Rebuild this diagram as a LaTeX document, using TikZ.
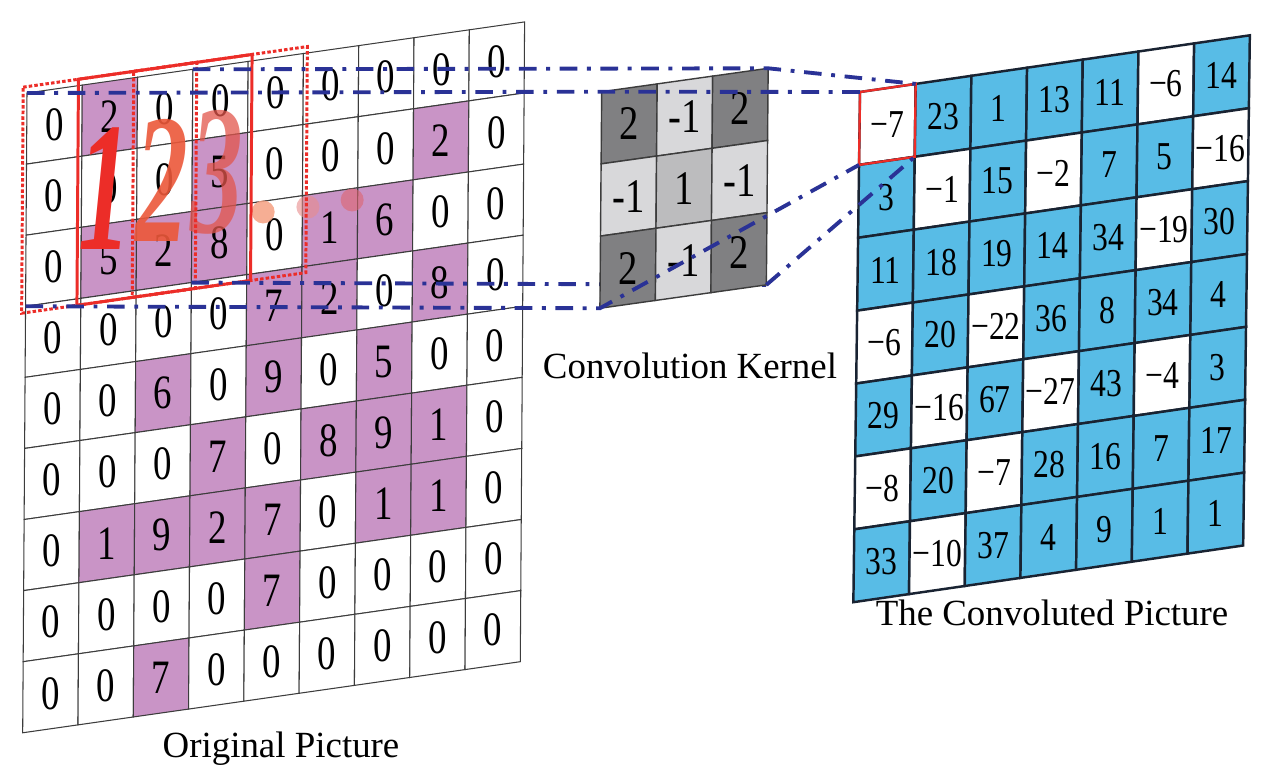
\documentclass[tikz,border=0pt]{standalone}
\usepackage{fontspec}
\setmainfont{Liberation Serif}
\usepackage{tikz}
\definecolor{origpink}{RGB}{201,148,198}
\definecolor{convblue}{RGB}{88,188,230}
\definecolor{kdark}{RGB}{128,128,130}
\definecolor{kmid}{RGB}{188,188,190}
\definecolor{klight}{RGB}{216,216,218}
\definecolor{linkblue}{RGB}{42,50,150}
\definecolor{winred}{RGB}{236,45,40}
\definecolor{cellline}{RGB}{60,60,60}
\definecolor{outline}{RGB}{25,35,50}
\newcommand{\labfont}{\fontsize{21}{25}\selectfont}
\newcommand{\numfont}{\fontsize{21}{21}\selectfont}
\newcommand{\bignum}{\fontsize{60}{60}\selectfont\bfseries\itshape}
\tikzset{
  orignum/.style={font=\numfont, yscale=1.3, inner sep=0pt},
  kernnum/.style={font=\fontsize{22}{22}\selectfont, yscale=1.25, inner sep=0pt},
  convnum/.style={font=\fontsize{18}{18}\selectfont, yscale=1.25, inner sep=0pt},
  caption/.style={font=\labfont, anchor=base, inner sep=0pt},
  link/.style={color=linkblue, line width=2.2pt,
    dash pattern=on 10pt off 5.5pt on 2.2pt off 5.5pt},
  window/.style={color=winred, line width=1.7pt},
  dotwin/.style={window, dash pattern=on 2pt off 1.2pt},
  redfig/.style={font=\bignum, yscale=1.75, inner sep=0pt},
  reddot/.style={circle, inner sep=0pt, minimum size=0.46cm}
}

\begin{document}
\begin{tikzpicture}[x=0.02cm, y=-0.02cm]
  \useasboundingbox (0,0) rectangle (1272,781);

  % original picture
  \begin{scope}[shift={(27,93)}, x={(1.106cm,0.158cm)}, y={(-0.0096cm,-1.422cm)}]
    \foreach \row [count=\r from 0] in {{0,2,0,0,0,0,0,0,0},{0,0,0,5,0,0,0,2,0},
      {0,5,2,8,0,1,6,0,0},{0,0,0,0,7,2,0,8,0},{0,0,6,0,9,0,5,0,0},
      {0,0,0,7,0,8,9,1,0},{0,1,9,2,7,0,1,1,0},{0,0,0,0,7,0,0,0,0},
      {0,0,7,0,0,0,0,0,0}}
    {\foreach \v [count=\c from 0] in \row
      {\ifnum\v=0 \def\cellcol{white}\else\def\cellcol{origpink}\fi
        \filldraw[fill=\cellcol, draw=cellline, line width=0.6pt]
          (\c,\r) -- (\c+1,\r) -- (\c+1,\r+1) -- (\c,\r+1) -- cycle;
        \draw (\c+0.5,\r+0.5) node (orig-\r-\c) [orignum] {\v};
      }
    }
    \coordinate (win-tl) at (0,0);
    \coordinate (win-tr) at (3,0);
    \coordinate (win-bl) at (0,3);
    \coordinate (win-br) at (3,3);

    % 1 2 3 ...
    \draw (1.42,1.5) node (fig-1) [redfig, text=winred] {1};
    \draw (2.45,1.5) node (fig-2) [redfig, text={rgb,255:red,236;green,88;blue,58}, text opacity=0.9] {2};
    \draw (3.45,1.5) node (fig-3) [redfig, text={rgb,255:red,226;green,86;blue,76}, text opacity=0.75] {3};
    \draw (4.29,2.15) node (dot-1) [reddot, fill={rgb,255:red,245;green,160;blue,130}, fill opacity=0.85] {};
    \draw (5.1,2.17) node (dot-2) [reddot, fill={rgb,255:red,232;green,140;blue,140}, fill opacity=0.6] {};
    \draw (5.9,2.16) node (dot-3) [reddot, fill={rgb,255:red,222;green,100;blue,110}, fill opacity=0.6] {};

    \draw[dotwin] (-0.07,-0.09) -- (3.07,-0.09) -- (3.07,3.09) -- (-0.07,3.09) -- cycle;
    \draw[window] (0.93,-0.09) -- (4.07,-0.09) -- (4.07,3.09) -- (0.93,3.09) -- cycle;
    \draw[dotwin] (1.93,-0.09) -- (5.07,-0.09) -- (5.07,3.09) -- (1.93,3.09) -- cycle;
  \end{scope}

  % the lower link runs behind the kernel
  \coordinate (kern-br-a) at (766.2,284.9);
  \draw[link] (win-br) -- (kern-br-a);

  % convolution kernel
  \begin{scope}[shift={(601.7,91.7)}, x={(1.11cm,0.156cm)}, y={(-0.012cm,-1.444cm)}]
    \foreach \row [count=\r from 0] in {{2,-1,2},{-1,1,-1},{2,-1,2}}
    {\foreach \v [count=\c from 0] in \row
      {\ifnum\v=2 \def\cellcol{kdark}\else
         \ifnum\v=1 \def\cellcol{kmid}\else\def\cellcol{klight}\fi\fi
        \filldraw[fill=\cellcol, draw=cellline, line width=0.8pt]
          (\c,\r) -- (\c+1,\r) -- (\c+1,\r+1) -- (\c,\r+1) -- cycle;
        \draw (\c+0.5,\r+0.5) node (kern-\r-\c) [kernnum] {\v};
      }
    }
    \coordinate (kern-tl) at (0,0);
    \coordinate (kern-tr) at (3,0);
    \coordinate (kern-bl) at (0,3);
    \coordinate (kern-br) at (3,3);
  \end{scope}

  % convoluted picture
  \begin{scope}[shift={(860,92)}, x={(1.114cm,0.162cm)}, y={(-0.019cm,-1.458cm)}]
    \foreach \row [count=\r from 0] in {{-7,23,1,13,11,-6,14},{3,-1,15,-2,7,5,-16},
      {11,18,19,14,34,-19,30},{-6,20,-22,36,8,34,4},{29,-16,67,-27,43,-4,3},
      {-8,20,-7,28,16,7,17},{33,-10,37,4,9,1,1}}
    {\foreach \v [count=\c from 0] in \row
      {\ifnum\v<0 \def\cellcol{white}\else\def\cellcol{convblue}\fi
        \filldraw[fill=\cellcol, draw=outline, line width=1.4pt]
          (\c,\r) -- (\c+1,\r) -- (\c+1,\r+1) -- (\c,\r+1) -- cycle;
        \draw (\c+0.5,\r+0.5) node (conv-\r-\c) [convnum]
          {\ifnum\v<0 −\number\numexpr-\v\relax\else\v\fi};
      }
    }
    \draw[winred, line width=1.3pt] (0,0) -- (1,0) -- (1,1) -- (0,1) -- cycle;
    \coordinate (cell-tl) at (0,0);
    \coordinate (cell-tr) at (1,0);
    \coordinate (cell-bl) at (0,1);
    \coordinate (cell-br) at (1,1);
  \end{scope}

  % links
  \draw[link] (win-tl) -- (kern-tl) -- (cell-tl);
  \draw[link] (win-tr) -- (kern-tr) -- (cell-tr);
  \draw[link] (win-bl) -- (kern-bl) -- (cell-bl);
  \draw[link] (kern-br) -- (cell-br);

  \draw (281,757) node (orig-label) [caption] {Original Picture};
  \draw (690,378) node (kern-label) [caption] {Convolution Kernel};
  \draw (1052,625) node (conv-label) [caption] {The Convoluted Picture};
\end{tikzpicture}
\end{document}
